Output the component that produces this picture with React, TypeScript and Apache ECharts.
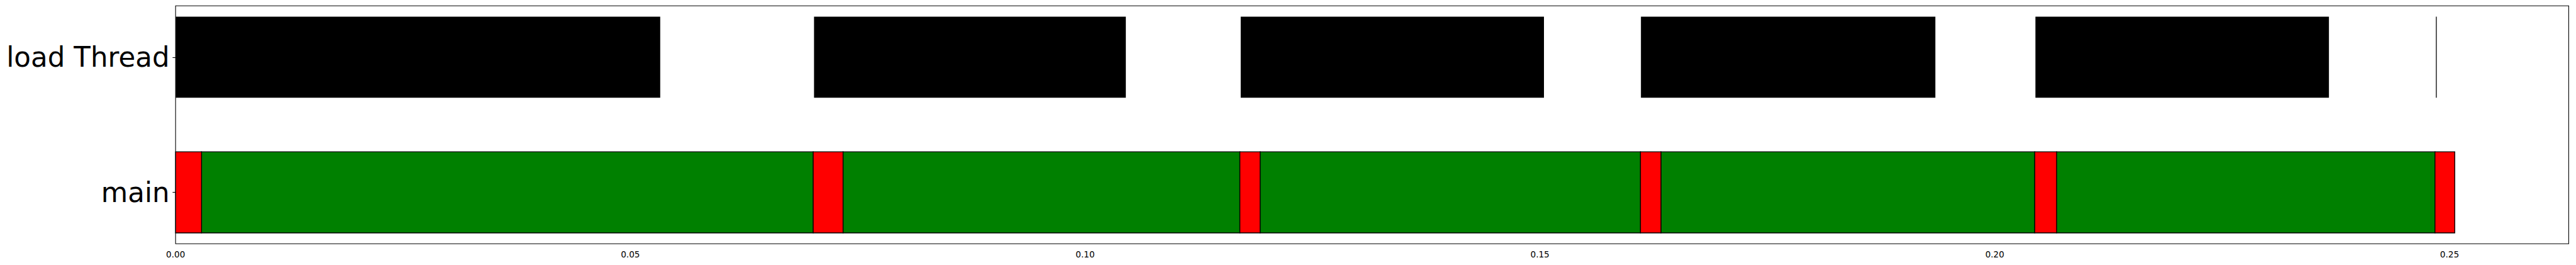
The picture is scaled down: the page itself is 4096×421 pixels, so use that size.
import React, { useEffect, useRef } from "react";
import * as echarts from "echarts";

// Rows (y positions: main = 0, load Thread = 1)
const threads = ["main", "load Thread"];

// main thread segments (seconds)
const mainRedStarts = [0, 0.0701, 0.11701, 0.16105, 0.2044, 0.2484];
const mainRedEnds = [0.00285, 0.07338, 0.11923, 0.1633, 0.2068, 0.25057];
const mainGreenStarts = [0.00285, 0.07338, 0.11923, 0.1633, 0.2068];
const mainGreenEnds = [0.0701, 0.11701, 0.16105, 0.2044, 0.2484];

// load Thread segments (seconds)
const loadStarts = [0, 0.07019, 0.1171, 0.1611, 0.20447, 0.2485];
const loadEnds = [0.05328, 0.10447, 0.15044, 0.19347, 0.23674, 0.24856];

// axis ticks
const xTicks = [0, 0.05, 0.1, 0.15, 0.2, 0.25];
const yTicks = [0, 1];

export default function App() {
  const ref = useRef<HTMLDivElement>(null);
  useEffect(() => {
    if (!ref.current) return;
    const chart = echarts.init(ref.current, null, { renderer: "svg" });
    const half = 0.3;
    const renderBar = (stroke: string | null) => (params: any, api: any) => {
      const s = api.value(0);
      const e = api.value(1);
      const row = api.value(2);
      const p0 = api.coord([s, row + half]);
      const p1 = api.coord([e, row - half]);
      return {
        type: "rect",
        shape: {
          x: p0[0],
          y: p0[1],
          width: Math.max(p1[0] - p0[0], 1.3),
          height: p1[1] - p0[1],
        },
        style: {
          fill: api.visual("color"),
          stroke: stroke || "none",
          lineWidth: stroke ? 1.36 : 0,
        },
      };
    };
    const seg = (starts: number[], ends: number[], row: number) =>
      starts.map((s, i) => [s, ends[i], row]);

    chart.setOption({
      animation: false,
      backgroundColor: "#ffffff",
      grid: {
        left: 279.2,
        top: 9.3,
        right: 11.6,
        bottom: 33.8,
        show: true,
        borderColor: "#000000",
        borderWidth: 1.1,
        backgroundColor: "transparent",
      },
      xAxis: {
        type: "value",
        min: 0,
        max: 0.2631,
        splitLine: { show: false },
        axisLine: { show: false },
        axisTick: {
          show: true,
          customValues: xTicks,
          length: 4.8,
          lineStyle: { color: "#000", width: 1.1 },
        },
        axisLabel: {
          customValues: xTicks,
          formatter: (v: number) => v.toFixed(2),
          fontSize: 13.6,
          fontFamily: "DejaVu Sans",
          color: "#000",
          margin: 9.5,
        },
      },
      yAxis: {
        type: "value",
        min: -0.38,
        max: 1.38,
        splitLine: { show: false },
        axisLine: { show: false },
        axisTick: {
          show: true,
          customValues: yTicks,
          length: 4.8,
          lineStyle: { color: "#000", width: 1.1 },
        },
        axisLabel: {
          customValues: yTicks,
          formatter: (v: number) => threads[Math.round(v)],
          fontSize: 43.6,
          fontFamily: "DejaVu Sans",
          color: "#000",
          margin: 9.5,
        },
      },
      series: [
        {
          type: "custom",
          name: "load",
          renderItem: renderBar(null),
          itemStyle: { color: "#000000" },
          encode: { x: [0, 1], y: 2 },
          data: seg(loadStarts, loadEnds, 1),
        },
        {
          type: "custom",
          name: "run",
          renderItem: renderBar("#000000"),
          itemStyle: { color: "#008000" },
          encode: { x: [0, 1], y: 2 },
          data: seg(mainGreenStarts, mainGreenEnds, 0),
        },
        {
          type: "custom",
          name: "wait",
          renderItem: renderBar("#000000"),
          itemStyle: { color: "#ff0000" },
          encode: { x: [0, 1], y: 2 },
          data: seg(mainRedStarts, mainRedEnds, 0),
        },
      ],
    });
    return () => chart.dispose();
  }, []);
  return (
    <div
      ref={ref}
      style={{ position: "absolute", left: 0, top: 0, width: 4096, height: 421 }}
    />
  );
}
